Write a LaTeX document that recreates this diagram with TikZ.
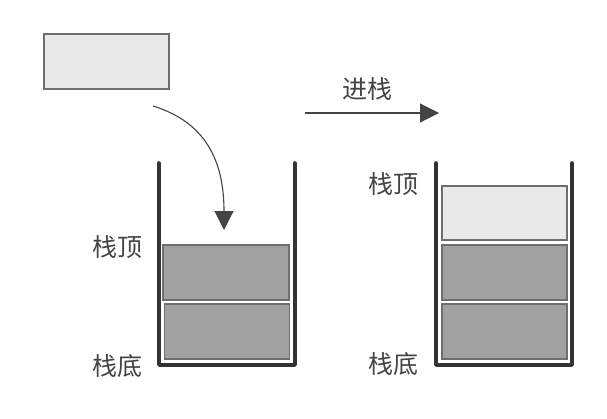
\documentclass[tikz,border=0pt]{standalone}
\usepackage{fontspec}
\newfontfamily\cjk{Noto Sans CJK SC}
\usetikzlibrary{arrows.meta}
\definecolor{lightfill}{HTML}{E9E9E9}
\definecolor{darkfill}{HTML}{A1A1A1}
\definecolor{boxline}{HTML}{6E6E6E}
\definecolor{wallc}{HTML}{333333}
\definecolor{txtc}{HTML}{444444}
\begin{document}
\begin{tikzpicture}[x=1pt,y=-1pt,
  lightbox/.style={draw=boxline,fill=lightfill,line width=1.2pt,inner sep=0pt,outer sep=0pt},
  darkbox/.style={draw=boxline,fill=darkfill,line width=1.2pt,inner sep=0pt,outer sep=0pt},
  wall/.style={draw=wallc,line width=3.6pt,line cap=round,line join=round},
  lbl/.style={font=\cjk\fontsize{25}{27}\selectfont,text=txtc,inner sep=0pt},
  conn/.style={draw=txtc,line width=1.1pt,-{Triangle[length=19pt,width=19pt]}}]
\useasboundingbox (0,0) rectangle (607,418);
% source element
\node[lightbox,minimum width=125pt,minimum height=55pt] (src) at (106.5,61.5) {};
% left stack
\coordinate (lwtl) at (159,163);
\coordinate (lwbl) at (159,365);
\coordinate (lwbr) at (295,365);
\coordinate (lwtr) at (295,163);
\draw[wall] (lwtl) -- (lwbl) -- (lwbr) -- (lwtr);
\node[darkbox,minimum width=126pt,minimum height=55pt] (l1) at (226,272.5) {};
\node[darkbox,minimum width=125pt,minimum height=55pt] (l2) at (227,331.5) {};
\node[lbl] (ltop) at (117,247) {栈顶};
\node[lbl] (lbot) at (117,366) {栈底};
% curved arrow
\coordinate (cs) at (153,106);
\coordinate (ce) at (224,230);
\draw[conn] (cs) .. controls (205,122) and (224,160) .. (ce);
% push arrow
\coordinate (as) at (305,113);
\coordinate (ae) at (439,113);
\draw[conn] (as) -- (ae);
\node[lbl] (push) at (367,89) {进栈};
% right stack
\coordinate (rwtl) at (436,163);
\coordinate (rwbl) at (436,365);
\coordinate (rwbr) at (572,365);
\coordinate (rwtr) at (572,163);
\draw[wall] (rwtl) -- (rwbl) -- (rwbr) -- (rwtr);
\node[lightbox,minimum width=125pt,minimum height=54pt] (r1) at (504.5,213) {};
\node[darkbox,minimum width=125pt,minimum height=55pt] (r2) at (504.5,272.5) {};
\node[darkbox,minimum width=125pt,minimum height=55pt] (r3) at (504.5,331.5) {};
\node[lbl] (rtop) at (393,184) {栈顶};
\node[lbl] (rbot) at (393,364) {栈底};
\end{tikzpicture}
\end{document}
